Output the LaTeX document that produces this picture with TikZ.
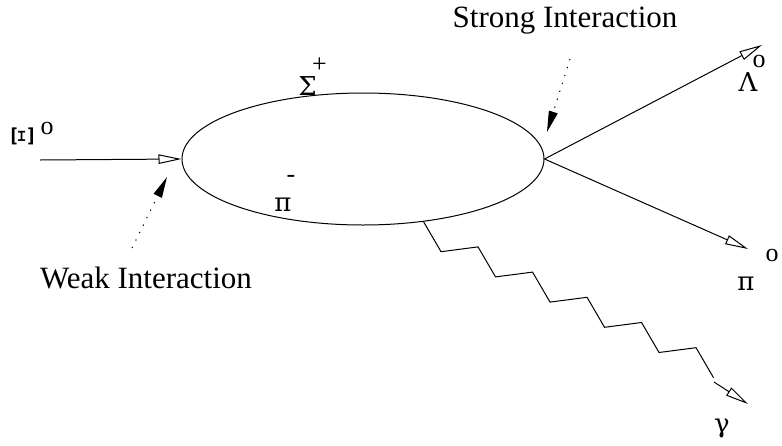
\documentclass[tikz,border=0pt]{standalone}
\usepackage{fontspec}
\setmainfont{Liberation Serif}
\newfontfamily\grkfont{DejaVu Serif}
\usetikzlibrary{arrows.meta,shapes.geometric}
\begin{document}
\begin{tikzpicture}[x=1pt,y=-1pt,line width=1pt,
  openarrow/.style={-{Triangle[open,length=23pt,width=9.5pt,line width=1pt]}},
  hint/.style={dash pattern=on 1.3pt off 7pt,-{Triangle[length=21pt,width=9pt]}},
  big/.style={font=\fontsize{31}{36}\selectfont,inner sep=0pt},
  greek/.style={font=\grkfont\fontsize{26}{30}\selectfont,inner sep=0pt},
  sup/.style={font=\fontsize{26}{30}\selectfont,inner sep=0pt}]
\useasboundingbox (0,0) rectangle (782,445);
% hyperon loop
\node[draw,ellipse,minimum width=362pt,minimum height=132pt,inner sep=0pt] (ell) at (363,159) {};
% incoming Xi
\coordinate (xin) at (40,160);
\draw[openarrow] (xin) -- (ell.west);
\node[greek,font=\grkfont\fontsize{29}{33}\selectfont,rotate=90] (xi) at (23,136) {Ξ};
\node[sup] (xio) at (47,128) {o};
% outgoing
\coordinate (lam) at (762,45);
\coordinate (pie) at (748,249);
\draw[openarrow] (ell.east) -- (lam);
\draw[openarrow] (ell.east) -- (pie);
\node[greek] (lamL) at (748,82) {Λ};
\node[sup] (lamo) at (759,61) {o};
\node[greek] (piL) at (746,284) {π};
\node[sup] (pio) at (772,255) {o};
% inner labels
\node[greek] (sig) at (307.5,86) {Σ};
\node[sup] (sigp) at (319.5,65) {+};
\node[greek] (pim) at (283,205) {π};
\node[sup] (pimm) at (291,179) {-};
% photon
\coordinate (g0) at (ell.-46.4);
\draw (g0) -- ++(17.5,30) -- ++(37,-4.8) -- ++(17.5,30) -- ++(37,-4.8)
  -- ++(17.5,30) -- ++(37,-4.8) -- ++(17.5,30) -- ++(37,-4.8)
  -- ++(17.5,30) -- ++(37,-4.8) -- ++(17.5,30) coordinate (g1);
\coordinate (gs) at (714,382);
\coordinate (gend) at (748,404);
\draw[openarrow] (gs) -- (gend);
\node[greek] (gam) at (722,428) {γ};
% interaction pointers
\coordinate (wk0) at (132,248);
\coordinate (wk1) at (167,177);
\draw[hint] (wk0) -- (wk1);
\node[big,anchor=base] (weak) at (146,288) {Weak Interaction};
\coordinate (st0) at (570,59);
\coordinate (st1) at (547,132);
\draw[hint] (st0) -- (st1);
\node[big,anchor=base] (strong) at (565,27) {Strong Interaction};
\end{tikzpicture}
\end{document}
